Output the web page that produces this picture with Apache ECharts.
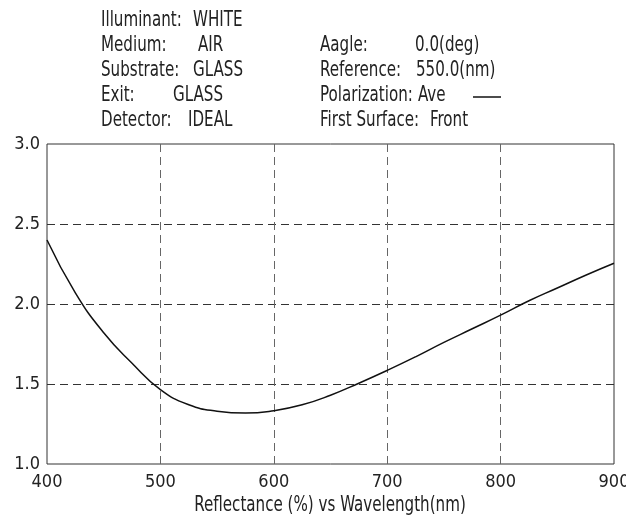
<!DOCTYPE html>
<html>
<head>
<meta charset="utf-8">
<script src="https://cdn.jsdelivr.net/npm/echarts@6/dist/echarts.min.js"></script>
<style>html,body{margin:0;padding:0;background:#fff}#c{width:626px;height:524px}</style>
</head>
<body>
<div id="c"></div>
<script>
const wavelengths = [400,425,450,475,500,525,550,575,600,625,650,675,700,725,750,775,800,825,850,875,900];
const reflectance = [2.40,2.07,1.82,1.63,1.465,1.37,1.33,1.318,1.333,1.37,1.43,1.505,1.585,1.67,1.76,1.845,1.93,2.02,2.10,2.18,2.255];
const xTicks = [400,500,600,700,800,900];
const yTicks = [1.0,1.5,2.0,2.5,3.0];
const infoLeftLabels = ['Illuminant:','Medium:','Substrate:','Exit:','Detector:'];
const infoLeftValues = ['WHITE','AIR','GLASS','GLASS','IDEAL'];
const infoRightLabels = ['Aagle:','Reference:','Polarization:','First Surface:'];
const infoRightValues = ['0.0(deg)','550.0(nm)','Ave','Front'];
const xName = 'Reflectance (%) vs Wavelength(nm)';

const FONT = '"DejaVu Sans Condensed","Liberation Sans Narrow",sans-serif';
const SX = 0.8;
const chart = echarts.init(document.getElementById('c'));
const leftValX = [193,198,193,173,188];
const rightValX = [415,416,418,430];
function txt(x, y, t, size, align) {
  return {type:'text', x:x, y:y, scaleX:SX, scaleY:1,
    style:{text:t, font:size+'px '+FONT, fill:'#222', verticalAlign:'top', align:align||'left'}};
}
const g = [];
infoLeftLabels.forEach((t,i)=>{
  g.push(txt(101, 10+i*25, t, 21));
  g.push(txt(leftValX[i], 10+i*25, infoLeftValues[i], 21));
});
infoRightLabels.forEach((t,i)=>{
  g.push(txt(320, 35+i*25, t, 21));
  g.push(txt(rightValX[i], 35+i*25, infoRightValues[i], 21));
});
g.push({type:'line',shape:{x1:473,y1:97,x2:501,y2:97},style:{stroke:'#111',lineWidth:1.5}});
g.push(txt(330, 495, xName, 21, 'center'));

chart.setOption({
  animation:false,
  backgroundColor:'#fff',
  grid:{left:47,right:12,top:144,bottom:60,show:true,borderColor:'#333',borderWidth:1,
    containLabel:false,outerBoundsMode:'none'},
  graphic:g,
  xAxis:{type:'value',min:400,max:900,interval:100,
    axisLine:{show:false},axisTick:{show:false},
    axisLabel:{fontFamily:FONT,fontSize:18,color:'#222',margin:9,
      formatter:v=>xTicks.includes(v)?String(v):''},
    splitLine:{show:true,showMinLine:false,showMaxLine:false,lineStyle:{color:'#666',type:[8,5],width:1}}},
  yAxis:{type:'value',min:1.0,max:3.0,interval:0.5,
    axisLine:{show:false},axisTick:{show:false},
    axisLabel:{fontFamily:FONT,fontSize:18,color:'#222',margin:7,
      formatter:v=>yTicks.includes(v)?v.toFixed(1):''},
    splitLine:{show:true,showMinLine:false,showMaxLine:false,lineStyle:{color:'#333',type:[8,5],width:1}}},
  series:[{type:'line',data:wavelengths.map((w,i)=>[w,reflectance[i]]),
    smooth:0.5,showSymbol:false,lineStyle:{color:'#111',width:1.5}}]
});
</script>
</body>
</html>
